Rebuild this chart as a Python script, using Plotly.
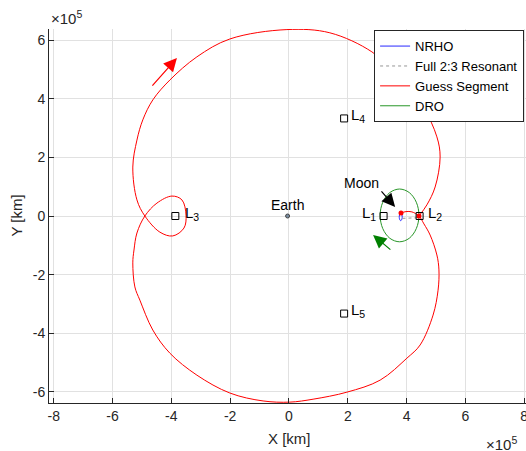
import plotly.graph_objects as go

# ---- data (units of 1e5 km, Earth-Moon rotating frame) ----
guess_x = [3.81, 3.98, 4.18, 4.42, 4.59, 4.80, 5.03, 5.10, 5.07, 4.90, 4.46, 4.01, 3.10, 1.97, 0.82, 0.03,
           -0.88, -2.01, -3.13, -4.05, -4.63, -5.07, -5.24, -5.31, -5.27, -5.17, -4.90,
           -4.49, -3.98, -3.64, -3.50, -3.57, -3.95, -4.39, -4.90,
           -5.17, -5.31, -5.17, -4.97, -4.63, -4.05, -3.13, -2.01, -0.07, 1.39, 2.82, 3.71,
           4.56, 5.03, 5.14, 4.97, 4.69, 4.42]
guess_y = [0.10, 0.15, 0.14, 0.00, -0.27, -0.65, -1.33, -1.84, -2.53, -3.38, -4.40, -4.85, -5.60, -6.01, -6.25, -6.35,
           -6.31, -6.04, -5.43, -4.68, -3.89, -2.87, -2.42, -1.60, -1.16, -0.58, 0.00,
           0.44, 0.68, 0.55, 0.03, -0.41, -0.68, -0.55, 0.00,
           0.55, 1.67, 2.59, 3.28, 3.96, 4.64, 5.43, 6.04, 6.36, 6.25, 5.60, 4.78,
           3.72, 2.70, 2.01, 0.99, 0.38, 0.00]

nrho_x = [3.80, 3.84, 3.85, 3.83, 3.80, 3.77, 3.75, 3.76, 3.80]
nrho_y = [0.10, 0.04, -0.05, -0.13, -0.16, -0.13, -0.05, 0.04, 0.10]

resonant_x = [3.86, 4.10, 4.38]
resonant_y = [-0.08, -0.08, -0.06]

dro_x = [4.42, 4.33, 4.09, 3.76, 3.43, 3.19, 3.10, 3.19, 3.43, 3.76, 4.09, 4.33, 4.42]
dro_y = [0.02, 0.47, 0.80, 0.92, 0.80, 0.47, 0.02, -0.43, -0.76, -0.88, -0.76, -0.43, 0.02]

lagrange_names = ["1", "2", "3", "4", "5"]
lagrange_x = [3.217, 4.442, -3.864, 1.875, 1.875]
lagrange_y = [0.0, 0.0, 0.0, 3.329, -3.329]

earth_x, earth_y = -0.047, 0.0
moon_x, moon_y = 3.797, 0.0

tick_x = [-8, -6, -4, -2, 0, 2, 4, 6, 8]
tick_y = [-6, -4, -2, 0, 2, 4, 6]

FONT = "Liberation Sans, Arial, sans-serif"
TXT = "#262626"

fig = go.Figure()
fig.add_trace(go.Scatter(x=nrho_x, y=nrho_y, mode="lines", name="NRHO",
                         line=dict(color="rgb(40,40,255)", width=1, shape="spline")))
fig.add_trace(go.Scatter(x=resonant_x, y=resonant_y, mode="lines", name="Full 2:3 Resonant",
                         line=dict(color="rgb(150,150,150)", width=1, dash="dot")))
fig.add_trace(go.Scatter(x=guess_x, y=guess_y, mode="lines", name="Guess Segment",
                         line=dict(color="rgb(255,0,0)", width=1, shape="spline", smoothing=1.0)))
fig.add_trace(go.Scatter(x=dro_x, y=dro_y, mode="lines", name="DRO",
                         line=dict(color="rgb(40,150,40)", width=1, shape="spline")))
# segment end points
fig.add_trace(go.Scatter(x=[guess_x[0], guess_x[3]], y=[guess_y[0], guess_y[3]], mode="markers",
                         marker=dict(color="red", size=5), showlegend=False))
# Earth
fig.add_trace(go.Scatter(x=[earth_x], y=[earth_y], mode="markers", showlegend=False,
                         marker=dict(color="rgb(120,140,160)", size=4, line=dict(color="#444", width=1))))
# Lagrange points
fig.add_trace(go.Scatter(x=lagrange_x, y=lagrange_y, mode="markers", showlegend=False,
                         marker=dict(symbol="square-open", color="black", size=7, line=dict(width=1))))

ann = []
offsets = {"1": ("right", -0.19), "2": ("left", 0.23), "3": ("left", 0.27),
           "4": ("left", 0.18), "5": ("left", 0.18)}
for n, lx, ly in zip(lagrange_names, lagrange_x, lagrange_y):
    anchor, dx = offsets[n]
    ann.append(dict(x=lx + dx, y=ly + 0.1, xref="x", yref="y", text="L<sub>" + n + "</sub>",
                    showarrow=False, xanchor=anchor, yanchor="middle",
                    font=dict(family=FONT, size=15, color="black")))
ann.append(dict(x=earth_x, y=earth_y + 0.36, xref="x", yref="y", text="Earth", showarrow=False,
                font=dict(family=FONT, size=14, color="black")))
ann.append(dict(x=2.48, y=1.13, xref="x", yref="y", text="Moon", showarrow=False,
                font=dict(family=FONT, size=14, color="black")))
# arrows
ann.append(dict(x=3.61, y=0.31, ax=3.10, ay=0.89, xref="x", yref="y", axref="x", ayref="y",
                text="", showarrow=True, arrowhead=2, arrowsize=2.2, arrowwidth=1.2, arrowcolor="black"))
ann.append(dict(x=-3.81, y=5.39, ax=-4.69, ay=4.40, xref="x", yref="y", axref="x", ayref="y",
                text="", showarrow=True, arrowhead=2, arrowsize=2.2, arrowwidth=1.2, arrowcolor="red"))
ann.append(dict(x=2.86, y=-0.65, ax=3.50, ay=-1.19, xref="x", yref="y", axref="x", ayref="y",
                text="", showarrow=True, arrowhead=2, arrowsize=2.2, arrowwidth=1.2, arrowcolor="green"))
# axis labels and exponents
ann.append(dict(x=0.505, y=-0.094, xref="paper", yref="paper", text="X [km]", showarrow=False,
                yanchor="middle", font=dict(family=FONT, size=15, color=TXT)))
ann.append(dict(x=-0.092, y=0.5, xref="paper", yref="paper", text="Y [km]", showarrow=False,
                textangle=-90, font=dict(family=FONT, size=15, color=TXT)))
ann.append(dict(x=0.0, y=1.0, xref="paper", yref="paper", text="×10<sup>5</sup>", showarrow=False,
                xanchor="left", yanchor="bottom", font=dict(family=FONT, size=15, color=TXT)))
ann.append(dict(x=0.985, y=-0.108, xref="paper", yref="paper", text="×10<sup>5</sup>", showarrow=False,
                xanchor="right", yanchor="middle", font=dict(family=FONT, size=15, color=TXT)))

axis_common = dict(showgrid=True, gridcolor="rgb(225,225,225)", gridwidth=1, zeroline=False,
                   showline=True, linecolor="rgb(38,38,38)", linewidth=1, ticks="inside",
                   ticklen=5, tickcolor="rgb(38,38,38)", automargin=False,
                   ticklabeloverflow="allow",
                   tickfont=dict(family=FONT, size=14, color=TXT))

fig.update_layout(
    width=526, height=451,
    margin=dict(l=49, r=0, t=29, b=48),
    paper_bgcolor="white", plot_bgcolor="white",
    xaxis=dict(range=[-8.16, 8.06], tickvals=tick_x, ticktext=[str(v) for v in tick_x], **axis_common),
    yaxis=dict(range=[-6.38, 6.38], tickvals=tick_y, ticktext=[str(v) for v in tick_y], **axis_common),
    legend=dict(x=0.996, y=0.997, xanchor="right", yanchor="top", bgcolor="white",
                bordercolor="rgb(38,38,38)", borderwidth=1, tracegroupgap=0,
                font=dict(family=FONT, size=13, color="black")),
    annotations=ann,
    showlegend=True,
)

fig.write_html("out.html", config={"displayModeBar": False},
               post_script="document.body.style.margin='0';document.body.style.overflow='hidden';")
